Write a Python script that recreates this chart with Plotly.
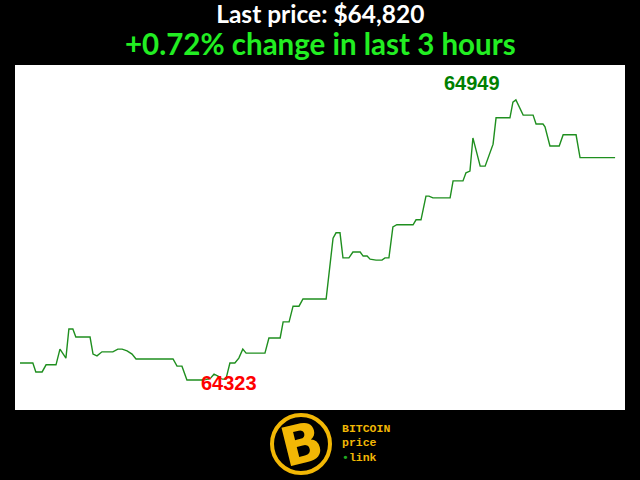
import plotly.graph_objects as go

# minutes since start of the 3-hour window
minutes = [0, 3.9, 4.8, 6.7, 7.9, 10.9, 12.1, 13.9, 14.8, 16.0, 16.9, 21.2, 22.1, 23.3, 24.8,
           28.1, 29.6, 30.9, 32.4, 33.9, 35.1, 46.3, 47.5, 49.0, 50.5, 55.4, 57.5, 58.7,
           59.9, 61.1, 62.3, 63.5, 65.0, 66.2, 67.4, 68.4, 74.1, 75.3, 78.7, 79.6, 81.4,
           82.6, 84.4, 85.6, 92.6, 93.8, 94.7, 95.6, 96.8, 97.7, 99.5, 100.7, 102.9, 103.8,
           105.0, 105.9, 107.7, 109.5, 110.4, 111.6, 112.8, 114.0, 118.9, 119.8, 121.3,
           122.8, 123.7, 124.9, 130.1, 131.0, 134.0, 134.9, 136.1, 137.0, 139.2, 140.7,
           142.2, 143.1, 144.0, 148.2, 149.1, 150.0, 152.2, 155.2, 156.1, 158.2, 158.8,
           160.3, 163.1, 164.3, 168.2, 169.4, 180.0]

prices = [64361, 64361, 64341, 64341, 64357, 64357, 64392, 64372, 64437, 64437, 64419, 64419,
          64381, 64377, 64386, 64386, 64392, 64392, 64388, 64381, 64370, 64370, 64354, 64354,
          64323, 64323, 64326, 64336, 64332, 64325, 64325, 64361, 64361, 64372, 64392, 64383,
          64383, 64417, 64417, 64453, 64453, 64488, 64488, 64504, 64504, 64590, 64640, 64652,
          64652, 64596, 64596, 64609, 64609, 64600, 64600, 64593, 64591, 64591, 64596, 64596,
          64665, 64670, 64670, 64681, 64681, 64734, 64734, 64730, 64730, 64768, 64768, 64786,
          64790, 64864, 64801, 64801, 64830, 64850, 64909, 64909, 64944, 64949, 64915, 64915,
          64895, 64895, 64889, 64846, 64846, 64871, 64871, 64820, 64820]

title_line1 = "Last price: $64,820"
title_line2 = "+0.72% change in last 3 hours"
logo_lines = ["BITCOIN", "price", "<span style='color:#22aa22'>•</span>link"]

imax = max(range(len(prices)), key=lambda i: prices[i])
imin = min(range(len(prices)), key=lambda i: prices[i])

GOLD = "#f2b705"
LOGO_X = (301 - 15) / 610  # paper x of logo centre

fig = go.Figure()
fig.add_trace(go.Scatter(x=minutes, y=prices, mode="lines",
                         line=dict(color="#1f8f1f", width=1.4), hoverinfo="skip"))

logo_text = "<br>".join("<span style='font-size:11.5px'>" + t + "</span>" for t in logo_lines)

ann = [
    dict(x=minutes[imax], y=prices[imax], xref="x", yref="y", text=str(prices[imax]),
         showarrow=False, xshift=-44, yshift=17,
         font=dict(family="Liberation Sans", size=20, color="#008000", weight="bold")),
    dict(x=minutes[imin], y=prices[imin], xref="x", yref="y", text=str(prices[imin]),
         showarrow=False, xshift=42, yshift=-3,
         font=dict(family="Liberation Sans", size=20, color="#ff0000", weight="bold")),
    dict(x=0.5, xref="paper", y=1, yref="paper", yshift=35, yanchor="middle",
         text=(title_line1 + "<br><span style='font-size:29.5px;color:#22ee22'>"
               + title_line2 + "</span>"),
         showarrow=False,
         font=dict(family="Lato", size=24.5, color="white", weight="bold")),
    dict(x=LOGO_X, xref="paper", y=0, yref="paper", yshift=-34, xshift=0,
         yanchor="middle", text="B", showarrow=False, textangle=-14,
         font=dict(family="DejaVu Sans", size=54, color=GOLD, weight="bold")),
    dict(x=LOGO_X, xref="paper", y=0, yref="paper", yshift=-33, xshift=39,
         xanchor="left", yanchor="middle", align="left", text=logo_text, showarrow=False,
         font=dict(family="Liberation Mono", size=11, color=GOLD, weight="bold")),
]

fig.update_layout(
    width=640, height=480, autosize=False,
    paper_bgcolor="black", plot_bgcolor="white",
    margin=dict(l=15, r=15, t=65, b=70),
    showlegend=False,
    xaxis=dict(visible=False, range=[-1.5, 183]),
    yaxis=dict(visible=False, range=[64256, 65027]),
    annotations=ann,
    shapes=[dict(type="circle", xref="paper", yref="paper",
                 xsizemode="pixel", ysizemode="pixel",
                 xanchor=LOGO_X, yanchor=0,
                 x0=-29, x1=29, y0=-63, y1=-5,
                 line=dict(color=GOLD, width=4))],
)
fig.write_html("out.html", config={"displayModeBar": False},
               post_script="document.body.style.margin='0';")
